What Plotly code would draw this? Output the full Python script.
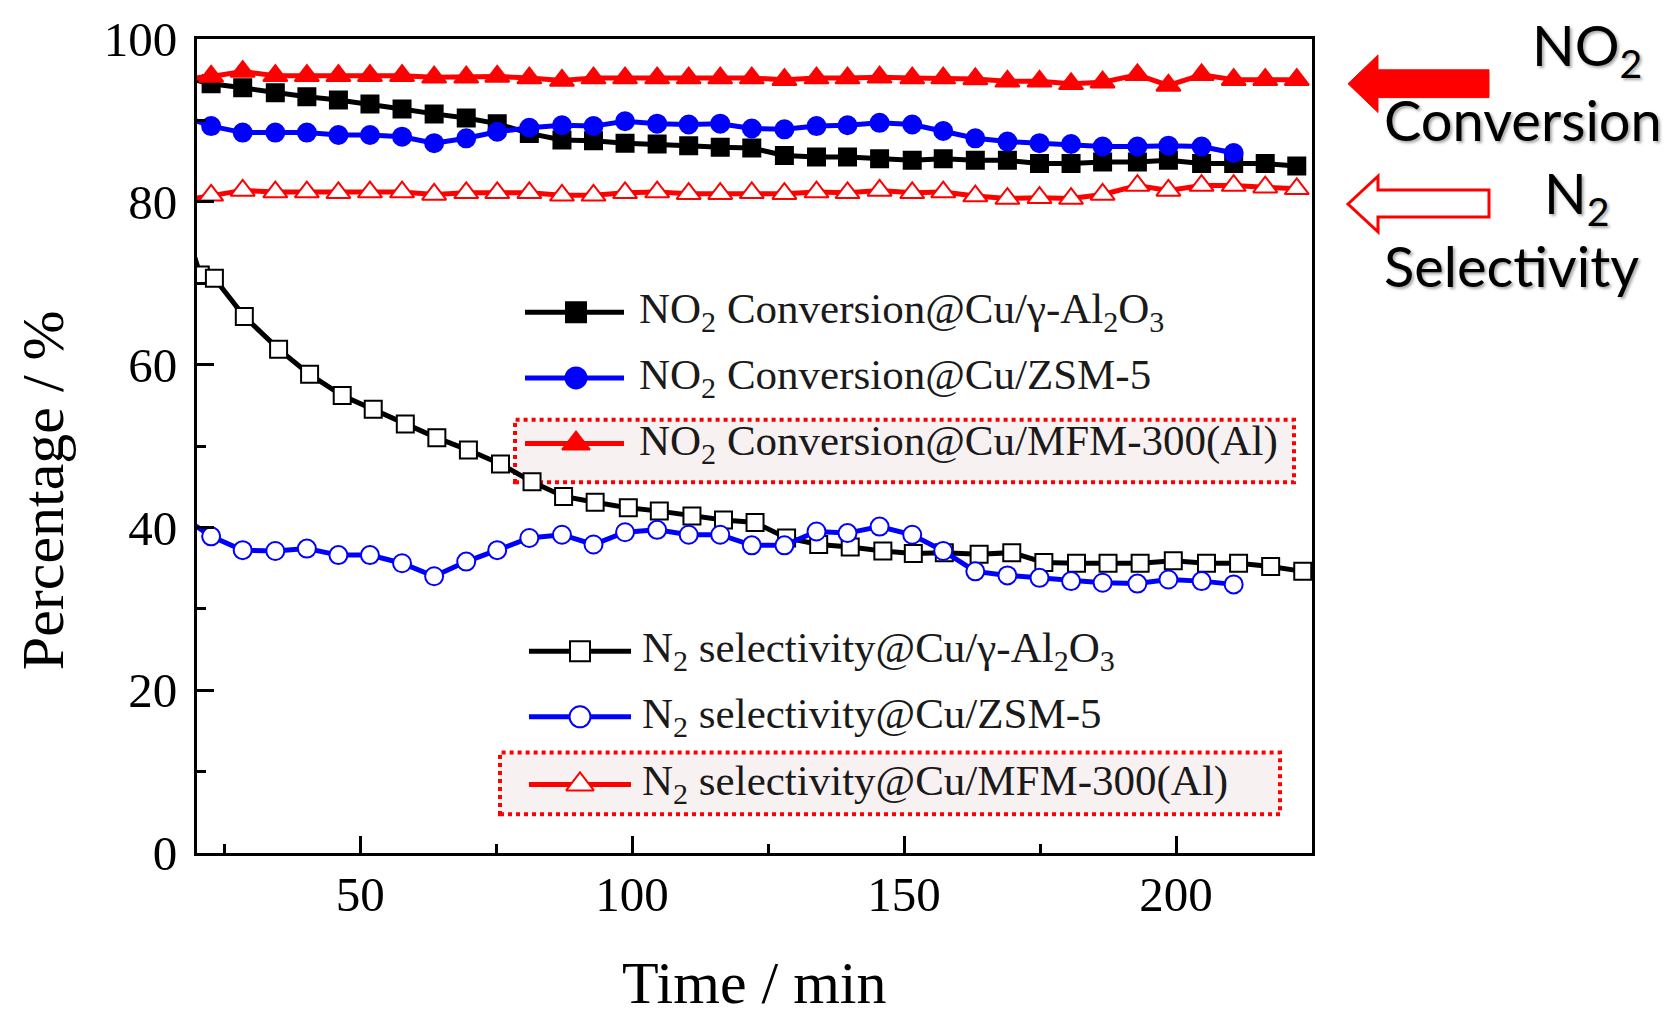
import plotly.graph_objects as go

# ---------------- data ----------------
time_grid = [16.7, 22.6, 28.4, 34.4, 40.2, 46.0, 51.8, 57.7, 63.6, 69.5, 75.2, 81.1,
             87.1, 92.9, 98.7, 104.6, 110.4, 116.2, 122.0, 128.0, 133.9, 139.6, 145.5, 151.5,
             157.2, 163.1, 169.0, 174.9, 180.7, 186.5, 192.9, 198.6, 204.7, 210.6, 216.4, 222.2]
time_zsm = time_grid[:34]
time_n2_al = [19.2, 20.6, 23.2, 28.7, 35.0, 40.7, 46.7, 52.4, 58.3, 64.1, 69.9, 75.8, 81.6,
              87.4, 93.2, 99.3, 105.0, 111.0, 116.8, 122.6, 128.4, 134.3, 140.1, 146.1, 151.7,
              157.4, 163.8, 169.8, 175.7, 181.7, 187.5, 193.4, 199.5, 205.6, 211.5, 217.4, 223.3]

no2_al = [95.4, 94.5, 94.0, 93.4, 92.9, 92.5, 92.0, 91.4, 90.8, 90.3, 89.6, 88.4, 87.6,
          87.5, 87.2, 87.1, 86.9, 86.7, 86.6, 85.7, 85.5, 85.5, 85.3, 85.1,
          85.3, 85.1, 85.1, 84.7, 84.7, 84.9, 84.9, 85.1, 84.7, 84.7, 84.7, 84.4]
no2_zsm = [90.7, 89.3, 88.5, 88.5, 88.5, 88.2, 88.2, 88.0, 87.2, 87.8, 88.6, 89.1, 89.4,
           89.3, 89.9, 89.6, 89.5, 89.6, 89.0, 88.9, 89.3, 89.4, 89.7, 89.5,
           88.7, 87.8, 87.4, 87.2, 87.1, 86.8, 86.8, 86.9, 86.8, 86.0]
no2_mfm = [95.0, 95.4, 96.0, 95.5, 95.5, 95.5, 95.5, 95.5, 95.3, 95.3, 95.4, 95.2, 94.9,
           95.2, 95.2, 95.2, 95.2, 95.2, 95.2, 95.0, 95.2, 95.2, 95.3, 95.2,
           95.2, 95.1, 94.8, 94.8, 94.5, 94.7, 95.6, 94.3, 95.6, 95.0, 95.0, 95.0]
n2_al = [74.0, 71.0, 70.6, 65.9, 61.9, 58.8, 56.2, 54.5, 52.7, 51.0, 49.5, 47.8, 45.6,
         43.8, 43.1, 42.4, 42.0, 41.4, 40.9, 40.6, 38.7, 37.9, 37.6, 37.1, 36.8,
         36.9, 36.7, 36.9, 35.7, 35.6, 35.6, 35.6, 35.9, 35.6, 35.6, 35.2, 34.6]
n2_zsm = [41.6, 38.9, 37.2, 37.1, 37.4, 36.6, 36.6, 35.6, 34.0, 35.8, 37.2, 38.7, 39.1,
          37.9, 39.4, 39.7, 39.1, 39.1, 37.8, 37.8, 39.5, 39.3, 40.1, 39.1,
          37.1, 34.6, 34.1, 33.8, 33.4, 33.2, 33.1, 33.6, 33.4, 33.0]
n2_mfm = [80.1, 80.8, 81.4, 81.2, 81.2, 81.1, 81.2, 81.2, 80.9, 81.1, 81.1, 81.1, 80.8,
          80.8, 81.1, 81.2, 81.0, 81.0, 81.1, 81.0, 81.2, 81.1, 81.4, 81.1,
          81.2, 80.7, 80.4, 80.5, 80.4, 80.9, 82.0, 81.4, 82.0, 82.0, 81.8, 81.6]

legend_labels = [
    "NO<sub>2</sub> Conversion@Cu/γ-Al<sub>2</sub>O<sub>3</sub>",
    "NO<sub>2</sub> Conversion@Cu/ZSM-5",
    "NO<sub>2</sub> Conversion@Cu/MFM-300(Al)",
    "N<sub>2</sub> selectivity@Cu/γ-Al<sub>2</sub>O<sub>3</sub>",
    "N<sub>2</sub> selectivity@Cu/ZSM-5",
    "N<sub>2</sub> selectivity@Cu/MFM-300(Al)",
]
x_ticks = [50, 100, 150, 200]
y_ticks = [0, 20, 40, 60, 80, 100]
X_MIN, X_MAX = 20, 225

# ---------------- layout geometry (pixels) ----------------
W, H = 1673, 1009
L, R, T, B = 197, 1312, 34, 853

def px(x):
    return (x - L) / (R - L)

def py(y):
    return (B - y) / (B - T)

BLACK, BLUE, RED = "#000000", "#0000ff", "#ff0000"
SERIF = "Liberation Serif"

# series: (x, y, color, symbol, filled, legend index)
series = [
    (time_grid, no2_al, BLACK, "square", True, 0),
    (time_n2_al, n2_al, BLACK, "square", False, 3),
    (time_zsm, no2_zsm, BLUE, "circle", True, 1),
    (time_zsm, n2_zsm, BLUE, "circle", False, 4),
    (time_grid, no2_mfm, RED, "triangle-up", True, 2),
    (time_grid, n2_mfm, RED, "triangle-up", False, 5),
]
msize = {"square": 17, "circle": 18, "triangle-up": 21}

fig = go.Figure()
for xs, ys, col, sym, filled, li in series:
    # points lying left of the axis only carry the line in; hide their markers
    op = [0 if t < X_MIN else 1 for t in xs]
    fig.add_trace(go.Scatter(
        x=xs, y=ys, mode="lines+markers",
        line=dict(color=col, width=5),
        marker=dict(symbol=sym, size=msize[sym], opacity=op,
                    color=col if filled else "white",
                    line=dict(color=col, width=2)),
        showlegend=False, hoverinfo="skip",
    ))

# ---------------- custom legend (drawn on a pixel-scaled overlay axis) ----------------
row_y = [309, 375, 441, 650, 716, 784]
row_line = [(525, 624, 576)] * 3 + [(529, 631, 580)] * 3
text_x = [637, 637, 637, 640, 640, 640]
style_by_leg = {s[5]: s for s in series}
for i in range(6):
    _, _, col, sym, filled, _ = style_by_leg[i]
    x0, x1, xm = row_line[i]
    fig.add_trace(go.Scatter(x=[x0, x1], y=[row_y[i], row_y[i]], mode="lines",
                             line=dict(color=col, width=5), xaxis="x2", yaxis="y2",
                             showlegend=False, hoverinfo="skip"))
    fig.add_trace(go.Scatter(x=[xm], y=[row_y[i]], mode="markers",
                             marker=dict(symbol=sym, size=msize[sym] + 3,
                                         color=col if filled else "white",
                                         line=dict(color=col, width=2)),
                             xaxis="x2", yaxis="y2", showlegend=False, hoverinfo="skip"))

annotations = []
for i in range(6):
    annotations.append(dict(
        x=px(text_x[i]), y=py(row_y[i]), xref="paper", yref="paper",
        xanchor="left", yanchor="middle", showarrow=False,
        text=legend_labels[i], font=dict(family=SERIF, size=43, color="#1a1a1a")))

# axis titles
annotations.append(dict(x=px(754), y=py(984), xref="paper", yref="paper",
                        xanchor="center", yanchor="middle", showarrow=False,
                        text="Time / min", font=dict(family=SERIF, size=60, color="black")))
annotations.append(dict(x=px(43), y=py(488), xref="paper", yref="paper",
                        xanchor="center", yanchor="middle", showarrow=False, textangle=-90,
                        text="Percentage / %", font=dict(family=SERIF, size=60, color="black")))

# right-side notes
note_font = dict(family="Lato", size=56, color="black",
                 shadow="2px 2px 3px rgba(0,0,0,0.35)")
for txt, xl, yc in [("NO<sub>2</sub>", 1530, 44), ("Conversion", 1382, 115),
                    ("N<sub>2</sub>", 1542, 192), ("Selectivity", 1382, 262)]:
    annotations.append(dict(x=px(xl), y=py(yc), xref="paper", yref="paper",
                            xanchor="left", yanchor="middle", showarrow=False,
                            text=txt, font=note_font))

# shapes: dotted legend boxes and arrows
def path_from(pts):
    return "M " + " L ".join(f"{px(a):.5f},{py(b):.5f}" for a, b in pts) + " Z"

shapes = []
for (x0, x1, y0, y1) in [(515, 1294, 417, 480), (500, 1280, 752, 814)]:
    shapes.append(dict(type="rect", xref="paper", yref="paper",
                       x0=px(x0), x1=px(x1), y0=py(y1), y1=py(y0),
                       line=dict(color=RED, width=4, dash="dot"),
                       fillcolor="#f8f1f1", layer="below"))

arrow_filled = [(1348, 79), (1378, 50), (1378, 65), (1489, 65), (1489, 93),
                (1378, 93), (1378, 108)]
arrow_open = [(1348, 200), (1378, 172), (1378, 186), (1489, 186), (1489, 213),
              (1378, 213), (1378, 228)]
shapes.append(dict(type="path", xref="paper", yref="paper", path=path_from(arrow_filled),
                   fillcolor=RED, line=dict(color=RED, width=1)))
shapes.append(dict(type="path", xref="paper", yref="paper", path=path_from(arrow_open),
                   fillcolor="white", line=dict(color=RED, width=3)))

axis_common = dict(showline=True, linecolor="black", linewidth=3, mirror=True,
                   ticks="inside", ticklen=17, tickwidth=3, tickcolor="black",
                   showgrid=False, zeroline=False,
                   tickfont=dict(family=SERIF, size=49, color="black"))

fig.update_layout(
    width=W, height=H, autosize=False,
    margin=dict(l=L, r=W - R, t=T, b=H - B, pad=0),
    paper_bgcolor="white", plot_bgcolor="white",
    xaxis=dict(range=[X_MIN, X_MAX], tickmode="array", tickvals=x_ticks,
               minor=dict(tickvals=[25, 75, 125, 175], ticks="inside", ticklen=9,
                          tickwidth=3, tickcolor="black"),
               ticklabelstandoff=-4, **axis_common),
    yaxis=dict(range=[0, 100], tickmode="array", tickvals=y_ticks,
               minor=dict(tickvals=[10, 30, 50, 70, 90], ticks="inside", ticklen=9,
                          tickwidth=3, tickcolor="black"),
               ticklabelstandoff=7, **axis_common),
    xaxis2=dict(overlaying="x", anchor="y2", range=[L, R], visible=False, fixedrange=True),
    yaxis2=dict(overlaying="y", anchor="x2", range=[B, T], visible=False, fixedrange=True),
    annotations=annotations,
    shapes=shapes,
)

fig.write_html("out.html")
